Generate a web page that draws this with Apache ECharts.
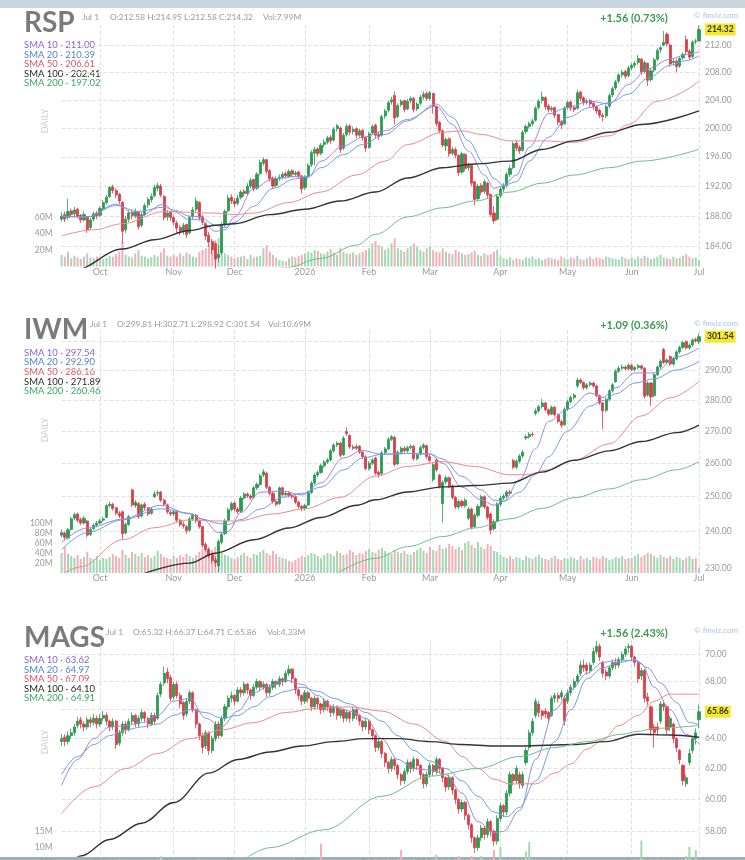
<!DOCTYPE html>
<html>
<head>
<meta charset="utf-8">
<script src="https://cdn.jsdelivr.net/npm/echarts@6/dist/echarts.min.js"></script>
<style>
  html, body { margin: 0; padding: 0; background: #fff; overflow: hidden; }
  /* taller than the window on purpose: the bottom of the MAGS panel is cut off like in the screenshot */
  #chart { width: 745px; height: 900px; }
</style>
</head>
<body>
<div id="chart"></div>
<script>
// ---- data ----
// candles are [open, close, low, high]; SMA arrays are [dayIndex, value]

const rspOHLC = [
  [187.6,188.0,187.3,188.5],[188.2,187.6,187.2,188.6],[187.8,188.6,187.5,190.3],[188.7,188.2,187.9,189.0],[188.3,188.8,188.0,189.2],
  [188.9,188.0,187.7,189.1],[188.1,187.5,187.1,188.3],[187.5,188.2,187.3,188.6],[187.9,186.2,185.8,188.0],[186.5,187.5,186.2,187.8],
  [187.6,188.3,187.3,188.6],[188.4,188.0,187.6,188.7],[188.1,189.0,187.9,189.3],[189.0,189.8,188.8,190.1],[189.8,190.5,189.5,190.8],
  [190.6,191.8,190.4,192.0],[191.9,191.4,191.0,192.2],[191.4,190.8,190.4,191.7],[190.9,190.0,189.6,191.1],[189.8,186.0,184.4,190.0],
  [186.2,187.6,185.8,188.0],[187.6,188.4,187.2,188.8],[188.5,188.0,187.6,188.9],[188.0,188.6,187.7,189.0],[188.5,186.6,186.2,188.7],
  [186.8,188.2,186.5,188.5],[188.2,189.4,188.0,189.7],[189.5,190.2,189.1,190.5],[190.2,190.6,189.8,191.0],[190.7,191.8,190.5,192.2],
  [191.7,192.1,191.3,192.5],[192.0,190.8,190.5,192.3],[190.6,187.8,187.4,190.8],[187.9,188.4,187.4,188.8],[188.5,187.8,187.4,188.7],
  [187.8,187.2,186.8,188.1],[187.1,186.4,185.8,187.4],[186.5,186.0,185.5,186.8],[186.0,186.8,185.6,187.1],[186.9,185.6,185.1,187.0],
  [185.8,187.8,185.6,188.0],[187.9,188.8,187.6,189.2],[188.9,190.0,188.6,190.5],[189.8,187.8,187.4,190.0],[187.9,187.2,186.8,188.2],
  [187.0,185.4,184.9,187.2],[185.5,184.6,184.0,185.9],[184.7,183.6,183.0,185.0],[184.4,182.4,181.2,184.6],[182.6,183.0,182.0,184.2],
  [183.2,186.8,183.0,187.2],[186.9,188.6,186.6,188.9],[188.7,190.4,188.5,190.8],[190.5,190.0,189.6,190.9],[190.0,189.6,189.2,190.4],
  [189.7,190.4,189.4,190.8],[190.5,191.2,190.2,191.5],[191.3,191.0,190.6,191.6],[191.0,192.0,190.8,192.4],[192.0,192.8,191.7,193.1],
  [192.9,191.6,191.3,193.0],[191.7,193.6,191.5,193.9],[193.7,195.2,193.5,195.6],[195.1,195.6,194.8,195.9],[195.6,194.0,193.6,195.7],
  [194.1,193.0,192.6,194.3],[193.1,192.0,191.6,193.3],[192.1,193.0,191.8,193.3],[193.0,193.2,192.7,193.6],[193.2,193.6,192.9,193.9],
  [193.7,193.4,193.0,194.0],[193.3,194.0,193.1,194.3],[194.1,193.6,193.2,194.3],[193.6,193.8,193.3,194.1],[193.9,193.4,193.0,194.1],
  [193.4,191.6,191.0,193.5],[191.8,193.2,191.5,193.5],[193.3,194.8,193.0,195.1],[194.9,196.6,194.6,196.9],[196.5,197.0,194.8,197.4],
  [197.1,196.4,196.0,197.3],[196.5,197.6,196.2,197.9],[197.7,198.0,197.3,198.4],[198.0,198.6,197.7,198.9],[198.7,198.2,197.8,199.0],
  [198.3,199.8,198.1,200.1],[199.9,200.3,199.5,200.6],[200.0,197.0,196.5,200.2],[197.2,199.0,196.9,199.3],[199.1,200.2,198.8,200.6],
  [200.3,199.4,199.0,200.5],[199.5,199.8,199.1,200.2],[199.9,199.0,198.6,200.1],[199.0,199.6,198.7,199.9],[199.7,198.6,198.2,199.8],
  [198.7,197.2,196.7,198.8],[197.3,199.2,197.1,199.5],[199.3,200.2,199.0,200.5],[200.4,199.0,198.6,200.6],[199.1,198.8,198.3,199.5],
  [199.0,201.6,198.8,201.9],[201.7,202.4,201.3,202.7],[202.5,203.6,202.2,203.9],[203.7,204.0,203.3,204.4],[204.6,201.4,200.5,205.2],
  [201.6,203.2,201.4,203.5],[203.3,203.8,203.0,204.1],[203.9,202.6,202.2,204.0],[202.7,203.8,202.5,204.1],[203.9,204.2,203.5,204.5],
  [204.2,202.6,202.2,204.4],[202.7,203.4,202.4,203.7],[203.5,204.4,203.2,204.7],[204.4,204.8,204.0,205.2],[204.9,204.2,203.8,205.2],
  [204.2,205.0,203.9,205.3],[204.9,203.0,202.0,205.0],[203.0,200.6,200.2,203.2],[200.8,199.6,199.2,201.0],[199.6,197.6,197.3,199.8],
  [197.5,198.4,196.8,198.7],[198.5,196.4,196.0,198.7],[196.5,197.0,196.2,197.4],[197.0,196.2,195.8,197.3],[196.2,193.8,193.4,196.3],
  [193.9,196.4,193.6,196.7],[196.3,194.4,194.0,196.5],[194.5,194.8,194.1,195.2],[194.8,192.4,192.0,194.9],[192.6,190.2,189.4,192.7],
  [190.3,192.0,190.0,192.3],[192.1,191.2,190.8,192.4],[191.3,192.6,191.0,192.9],[192.4,190.8,190.4,192.6],[190.9,188.2,187.9,191.0],
  [188.4,187.4,187.0,189.3],[187.6,190.6,187.4,190.9],[190.7,191.6,190.4,191.9],[191.6,192.0,191.2,192.4],[192.1,193.6,191.8,193.9],
  [193.6,194.4,193.2,194.8],[194.5,197.8,194.3,198.1],[197.9,197.2,196.8,198.2],[197.3,196.8,196.4,197.6],[196.9,199.4,196.7,199.7],
  [199.5,200.2,199.2,200.5],[200.2,200.6,199.9,200.9],[200.6,201.0,200.3,201.3],[201.1,202.8,200.9,203.1],[202.9,203.8,202.6,204.1],
  [203.9,204.4,203.5,205.2],[204.3,203.0,202.6,204.5],[203.1,202.6,202.2,203.4],[202.6,202.8,202.3,203.1],[202.9,201.8,201.4,203.0],
  [201.9,200.8,200.4,202.0],[200.9,200.4,199.9,201.1],[200.6,202.8,200.4,203.1],[202.9,203.6,202.6,203.9],[203.7,202.8,202.4,203.9],
  [202.9,202.6,202.2,203.2],[202.8,205.0,202.6,205.4],[205.1,204.2,203.8,205.3],[204.3,203.6,203.2,204.5],[203.6,203.8,203.3,204.2],
  [203.9,203.4,203.0,204.1],[203.5,203.0,202.6,203.7],[203.0,202.4,202.0,203.2],[202.5,201.8,201.4,202.7],[201.8,201.6,200.9,202.1],
  [201.7,203.0,201.4,203.3],[203.1,204.6,202.8,204.9],[204.7,205.6,204.4,205.9],[205.7,206.6,205.4,206.9],[206.7,207.6,206.4,207.9],
  [207.6,208.0,207.2,208.3],[208.1,207.4,207.0,208.3],[207.5,208.6,207.2,208.9],[208.6,209.0,208.3,209.3],[209.0,209.3,208.6,209.6],
  [209.4,210.0,209.1,210.5],[209.9,208.0,207.6,210.1],[208.1,209.4,207.8,209.7],[209.3,206.8,206.0,209.4],[206.9,208.2,206.6,208.6],
  [208.3,209.8,208.0,210.1],[209.9,211.2,209.6,211.5],[211.3,211.6,210.8,211.9],[212.0,212.4,211.8,214.1],[213.6,212.2,211.8,213.9],
  [212.0,209.2,208.8,212.2],[209.4,209.6,209.0,210.0],[209.6,208.8,208.0,209.9],[208.9,210.0,208.6,210.3],[210.1,210.6,209.8,210.9],
  [212.8,211.0,210.6,213.4],[211.1,210.2,209.8,211.4],[210.3,212.4,210.0,212.7],[212.5,212.6,212.1,212.9],[212.58,214.32,212.58,214.95]
];
const rspVol = [
  14,12,18,10,13,11,9,12,16,11,10,12,
  10,9,11,13,12,15,18,30,14,12,11,16,20,13,12,10,11,14,12,17,22,13,12,
  14,12,16,13,17,15,12,11,18,20,22,26,28,32,34,24,16,14,12,
  10,11,12,13,9,14,11,12,13,22,26,18,14,11,8,7,6,10,12,11,13,14,
  16,18,17,20,19,16,15,18,21,17,14,22,18,16,15,17,14,16,18,20,
  22,28,31,26,24,20,22,28,34,22,20,18,22,25,28,24,20,18,22,
  24,20,18,17,22,18,16,15,20,18,16,14,15,17,19,14,13,16,14,15,18,20,
  12,10,9,11,8,10,9,8,11,10,12,9,10,8,9,11,10,9,8,12,10,
  9,11,10,13,9,8,10,12,9,11,10,9,12,11,10,9,8,12,10,9,
  11,9,12,10,13,11,9,10,12,14,11,10,9,12,10,11,13,15,12,10,11,7.99
];
const rspSma10 = [[0,187.9],[8,187.9],[17,189.6],[24,187.9],[32,189.6],[35,188.6],[40,187.5],[43,187.6],[48,186.0],[51,186.2],[54,187.9],[60,191.7],[66,193.0],[73,193.3],[77,193.2],[81,195.4],[88,197.5],[94,198.7],[101,199.6],[108,201.2],[117,203.1],[122,200.5],[127,196.8],[132,193.5],[135,191.7],[138,192.1],[142,193.5],[146,197.3],[152,202.0],[158,202.9],[165,203.8],[171,203.4],[177,206.2],[183,208.5],[190,209.9],[195,210.6],[199,211.0]];
const rspSma20 = [[0,188.0],[8,187.9],[17,189.4],[24,188.6],[32,189.2],[35,188.8],[40,188.0],[43,187.9],[48,186.8],[51,186.5],[54,187.2],[60,189.3],[66,191.7],[73,193.0],[77,193.3],[81,194.5],[88,196.3],[94,197.7],[101,199.1],[108,201.0],[117,203.4],[122,201.5],[127,198.2],[132,195.0],[135,193.0],[138,192.1],[142,192.6],[146,195.4],[152,198.7],[158,201.5],[165,202.9],[171,203.6],[177,204.8],[183,207.1],[190,209.0],[195,209.7],[199,210.39]];
const rspSma50 = [[0,185.4],[10,186.2],[19,187.0],[32,188.6],[48,188.4],[54,188.2],[60,188.4],[71,189.8],[81,191.2],[92,193.5],[101,195.4],[108,197.7],[119,199.4],[125,199.6],[131,199.1],[140,198.2],[150,198.2],[160,198.0],[171,198.9],[177,200.5],[186,203.8],[199,206.61]];
const rspSma100 = [[0,180.3],[4,181.0],[19,183.7],[29,184.9],[40,186.1],[48,186.8],[54,187.0],[65,188.2],[76,188.9],[87,190.0],[98,191.2],[108,193.1],[119,194.5],[129,195.0],[140,195.4],[150,197.0],[160,198.2],[171,199.4],[181,200.5],[199,202.41]];
const rspSma200 = [[58,180.4],[70,181.3],[81,182.5],[92,184.2],[98,185.6],[108,187.9],[119,189.1],[129,190.0],[140,191.2],[150,192.4],[160,193.5],[171,194.5],[181,195.4],[199,197.02]];

const iwmOHLC = [
  [239.0,239.7,238.4,240.6],[239.6,238.4,237.6,240.0],[238.2,240.5,237.8,241.0],[240.6,243.6,240.3,244.2],[243.8,244.8,243.2,245.4],
  [245.0,243.2,242.6,245.4],[243.4,242.4,241.8,244.0],[242.4,243.8,242.0,244.4],[243.0,239.0,238.4,243.2],[239.2,240.6,238.8,241.0],
  [240.8,241.8,240.4,242.2],[241.8,242.4,241.2,243.0],[242.4,243.0,242.0,243.6],[243.2,243.6,242.8,244.2],[244.0,247.4,243.8,248.0],
  [247.4,247.8,246.8,248.6],[247.8,246.6,246.0,248.2],[246.8,245.2,244.6,247.0],[245.2,244.4,243.8,245.8],[245.6,239.4,237.8,246.0],
  [239.6,242.0,239.2,242.6],[242.0,244.2,241.6,244.8],[252.0,247.6,247.0,252.4],[247.4,248.4,246.8,249.0],[248.0,244.2,243.6,248.4],
  [244.4,247.6,244.0,248.0],[247.8,246.8,246.2,248.4],[246.8,245.0,244.4,247.0],[245.2,246.4,244.8,247.0],[250.0,250.8,249.6,251.6],
  [251.0,251.2,250.2,252.0],[251.4,249.0,248.4,251.6],[249.0,247.8,247.2,249.4],[247.6,245.6,245.0,248.0],[245.4,245.0,244.4,246.0],
  [245.0,245.6,244.4,246.2],[245.8,243.2,242.6,246.0],[243.2,242.0,241.4,243.6],[242.0,241.6,240.8,242.8],[241.4,240.2,239.4,241.8],
  [240.4,243.6,240.0,244.2],[243.6,244.6,243.0,245.2],[244.6,243.0,242.4,245.0],[243.0,241.4,240.8,243.4],[241.4,236.2,235.6,241.6],
  [236.4,235.0,234.4,237.0],[235.0,233.4,232.6,235.6],[233.6,232.0,231.2,234.0],[232.2,231.4,230.2,233.0],[230.6,237.2,228.9,237.8],
  [237.0,239.2,236.4,239.8],[239.4,243.0,239.0,243.6],[243.2,246.2,242.8,246.8],[246.2,248.0,245.8,248.6],[248.2,246.4,245.8,248.6],
  [246.4,245.6,245.0,247.0],[245.8,249.6,245.4,250.2],[249.6,250.8,249.2,251.4],[250.8,250.2,249.6,251.2],[250.2,249.6,249.0,250.8],
  [249.8,252.6,249.4,253.2],[252.6,253.6,252.0,254.2],[253.6,256.2,253.2,256.8],[256.4,257.4,255.8,258.2],[257.0,252.8,252.2,257.4],
  [252.8,251.0,250.4,253.2],[251.0,248.6,248.0,251.4],[248.6,247.8,247.2,249.2],[248.0,252.6,247.6,253.0],[252.6,250.6,250.0,253.0],
  [250.6,251.0,250.0,251.6],[251.0,250.4,249.8,251.6],[250.4,250.0,249.4,250.8],[250.0,248.4,247.8,250.4],[248.4,247.2,246.6,248.8],
  [247.2,246.6,245.8,247.6],[246.6,247.4,246.0,248.0],[247.6,251.2,247.2,251.8],[251.2,254.0,250.8,254.6],[254.0,256.4,253.6,257.0],
  [256.4,257.2,255.8,257.8],[257.2,259.2,256.8,259.8],[259.2,260.4,258.6,261.0],[260.4,261.0,259.8,261.6],[261.0,263.8,260.6,264.4],
  [263.8,265.6,263.2,266.2],[265.6,266.2,265.0,266.8],[266.2,262.4,261.8,266.6],[262.6,267.8,262.2,268.4],[269.8,269.2,268.4,271.2],
  [268.6,265.0,264.4,269.0],[265.0,264.6,264.0,265.6],[264.6,265.2,264.0,265.8],[265.2,263.4,262.8,265.6],[263.4,262.0,261.4,263.8],
  [262.0,258.4,257.8,262.4],[258.4,260.0,257.8,260.6],[260.0,261.0,259.4,261.6],[261.6,257.0,256.4,262.0],[257.2,256.6,255.6,257.8],
  [256.8,263.2,256.4,263.8],[263.2,264.4,262.6,265.0],[264.4,267.4,264.0,268.0],[267.4,268.2,266.8,268.8],[268.0,259.6,259.0,268.4],
  [259.8,263.4,259.4,264.0],[263.4,264.6,262.8,265.2],[264.6,263.8,263.2,265.2],[263.8,264.8,263.2,265.4],[264.8,265.2,264.2,265.8],
  [265.2,261.4,260.8,265.6],[261.4,262.6,260.8,263.2],[262.8,264.8,262.4,265.4],[264.8,265.6,264.2,266.2],[265.4,262.0,261.4,265.8],
  [262.0,260.8,260.2,262.6],[255.0,259.6,254.4,260.2],[261.0,258.0,257.4,261.6],[256.4,253.0,252.4,256.8],[248.0,254.2,242.6,254.8],
  [254.4,255.6,253.6,256.2],[255.6,253.2,252.6,256.0],[253.2,249.8,249.2,253.6],[249.8,247.0,246.4,250.2],[247.0,248.6,246.4,249.2],
  [248.6,247.4,246.8,249.2],[247.4,249.0,246.8,249.6],[243.8,246.4,243.2,247.0],[246.4,241.2,240.6,246.8],[241.4,244.6,241.0,245.2],
  [244.6,247.2,244.0,247.8],[247.2,250.0,246.8,250.6],[250.0,247.0,246.4,250.4],[247.0,244.0,243.4,247.4],[245.0,240.4,239.2,245.4],
  [240.8,242.8,240.2,243.4],[243.0,247.8,242.6,248.4],[247.8,249.6,247.2,250.2],[249.6,250.2,249.0,250.8],[250.2,251.4,249.6,252.0],
  [251.4,251.0,250.4,252.0],[260.8,258.8,258.2,261.4],[258.8,260.6,258.2,261.2],[260.6,262.2,260.0,262.8],[262.2,263.4,261.6,264.0],
  [267.8,268.2,267.2,268.8],[268.2,269.0,267.6,269.6],[269.0,268.8,268.2,269.6],[275.6,276.4,275.0,277.2],[276.4,277.8,275.8,278.4],
  [277.8,279.0,277.2,280.4],[279.0,276.8,276.2,279.4],[276.8,275.4,274.8,277.2],[275.4,277.6,275.0,278.2],[277.6,275.2,274.6,278.0],
  [275.2,273.0,272.4,275.6],[273.0,271.8,271.0,273.6],[272.0,277.0,271.6,277.6],[277.0,279.4,276.4,280.0],[279.4,280.8,278.8,281.4],
  [280.8,281.6,280.2,282.2],[284.6,286.6,284.0,287.4],[286.6,285.8,285.2,287.2],[285.8,284.0,283.4,286.2],[284.0,285.0,283.4,285.6],
  [285.0,285.6,284.4,286.2],[285.6,284.6,284.0,286.0],[284.6,281.4,280.8,285.0],[281.4,279.0,278.4,281.8],[279.0,276.4,270.6,279.4],
  [276.6,280.2,276.0,280.8],[280.2,283.0,279.6,283.6],[283.0,285.0,282.4,285.6],[286.0,289.6,285.6,290.2],[289.6,290.6,289.0,291.4],
  [290.6,291.0,290.0,291.8],[291.0,290.4,289.8,291.6],[290.4,291.6,289.8,292.2],[291.6,290.2,289.6,292.0],[290.2,290.8,289.6,291.4],
  [290.8,291.4,290.2,292.0],[291.4,290.6,290.0,291.8],[290.6,281.2,280.4,291.0],[281.6,285.6,281.0,286.2],[285.6,281.0,278.0,286.0],
  [281.4,288.4,281.0,289.0],[288.4,291.0,287.8,291.6],[291.0,293.0,290.4,293.6],[297.0,292.6,292.0,297.6],[292.6,293.4,292.0,294.0],
  [294.6,292.0,291.4,295.0],[292.0,293.8,291.4,294.4],[293.8,296.2,293.2,296.8],[296.2,297.8,295.6,298.4],[297.8,299.4,297.2,300.0],
  [299.8,297.6,297.0,300.2],[297.6,298.6,297.0,299.2],[298.6,300.4,298.0,301.0],[300.6,300.0,299.4,301.2],[299.81,301.54,298.92,302.71]
];
const iwmVol = [
  40,52,38,34,30,36,28,32,42,30,28,34,
  26,30,28,32,38,34,30,46,36,30,42,38,34,40,32,36,30,34,44,38,32,30,28,
  34,30,36,32,38,34,30,36,42,48,44,50,46,52,48,40,36,34,30,
  28,32,36,40,34,30,38,36,42,46,40,36,44,38,32,30,28,24,22,26,30,34,
  32,36,40,38,34,30,36,40,38,34,44,40,36,38,46,42,36,40,38,44,
  48,42,40,46,50,44,40,38,46,42,40,44,38,36,42,46,50,44,40,
  52,46,44,56,48,50,58,54,48,52,46,60,64,56,50,62,52,48,58,54,44,42,
  36,32,30,34,28,32,30,26,34,30,28,32,36,30,28,26,30,34,28,26,30,
  28,32,30,26,34,28,30,26,32,30,28,34,30,26,28,32,30,34,28,30,
  30,34,38,32,36,40,38,34,30,36,32,30,34,28,32,30,26,30,34,28,30,10.69
];
const iwmSma10 = [[0,237.0],[8,241.0],[19,243.5],[31,247.5],[40,245.0],[44,243.5],[49,239.7],[52,240.0],[56,245.4],[62,251.3],[69,251.7],[75,250.5],[81,254.1],[88,261.6],[94,263.9],[100,262.7],[108,263.0],[115,262.8],[119,260.0],[125,252.8],[131,249.1],[135,247.5],[138,248.7],[143,255.0],[148,264.5],[152,273.0],[158,277.0],[165,282.3],[169,280.8],[173,284.0],[179,289.0],[185,289.0],[192,294.5],[199,297.54]];
const iwmSma20 = [[0,235.0],[8,239.7],[19,243.3],[31,246.5],[40,245.2],[44,243.5],[49,242.3],[52,242.0],[56,243.4],[62,246.4],[69,249.8],[75,251.0],[81,252.8],[88,258.0],[94,261.6],[100,262.7],[108,263.0],[115,262.8],[119,261.3],[125,256.0],[131,252.0],[135,249.0],[138,248.7],[143,251.3],[148,256.6],[152,262.0],[158,270.0],[165,278.0],[169,279.8],[173,282.0],[179,285.6],[185,287.0],[192,290.0],[199,292.9]];
const iwmSma50 = [[0,228.2],[6,230.3],[19,237.7],[29,241.1],[40,243.3],[48,243.0],[55,243.0],[66,245.0],[76,246.5],[87,249.8],[98,256.1],[108,259.0],[119,260.5],[129,259.0],[140,256.5],[145,256.5],[152,258.0],[160,260.9],[171,266.0],[181,274.8],[190,280.7],[199,286.16]];
const iwmSma100 = [[26,228.6],[40,231.3],[48,234.0],[60,237.7],[71,241.0],[81,244.0],[92,247.5],[98,249.1],[108,251.4],[119,252.9],[129,253.3],[140,254.0],[150,257.3],[160,260.9],[171,263.8],[181,266.7],[192,269.5],[199,271.89]];
const iwmSma200 = [[86,228.6],[98,232.6],[108,235.8],[119,238.6],[129,241.0],[140,243.6],[150,246.6],[160,249.7],[171,252.3],[181,255.0],[192,258.0],[199,260.46]];

const magsOHLC = [
  [63.8,64.0,63.5,64.3],[64.1,63.8,63.5,64.3],[63.8,64.2,63.6,64.5],[64.2,64.4,64.0,64.7],[64.4,64.8,64.2,65.0],
  [64.9,65.2,64.7,65.5],[65.3,65.0,64.7,65.5],[65.0,64.8,64.5,65.2],[64.8,65.3,64.6,65.5],[65.3,65.1,64.8,65.5],
  [65.1,65.4,64.9,65.7],[65.4,65.0,64.7,65.6],[65.0,65.4,64.8,65.7],[65.4,65.6,65.2,65.9],[65.6,65.2,64.9,65.8],
  [65.2,64.8,64.5,65.3],[64.8,65.2,64.6,65.4],[65.2,63.6,63.3,65.3],[63.7,64.4,63.5,64.6],[64.4,65.0,64.2,65.2],
  [65.0,64.6,64.3,65.2],[64.6,65.2,64.5,65.4],[65.2,65.6,65.0,65.8],[65.6,65.0,64.8,65.7],[65.0,65.4,64.8,65.6],
  [65.4,65.8,65.2,66.0],[65.8,65.4,65.1,65.9],[65.4,65.0,64.7,65.5],[65.0,65.6,64.9,65.8],[65.6,65.2,65.0,65.8],
  [65.4,67.0,65.3,67.2],[67.1,67.8,66.9,68.0],[67.9,68.6,67.7,69.1],[68.7,68.2,67.9,69.0],[68.3,66.8,66.6,68.5],
  [66.9,67.8,66.7,68.0],[67.8,67.0,66.8,68.0],[67.0,66.4,66.1,67.2],[66.5,65.6,65.3,66.6],[65.7,66.6,65.5,66.8],
  [66.6,67.2,66.4,67.4],[67.2,66.0,65.8,67.3],[66.0,65.0,64.7,66.1],[65.0,64.2,63.9,65.1],[64.2,63.4,63.0,64.4],
  [63.5,64.4,63.3,64.6],[64.4,63.2,62.9,64.5],[63.2,64.0,63.0,64.2],[64.0,65.0,63.8,65.2],[65.0,64.2,64.0,65.2],
  [64.2,65.4,64.1,65.6],[65.4,66.2,65.2,66.4],[66.2,66.8,66.0,67.0],[66.8,67.0,66.5,67.3],[67.0,66.6,66.3,67.1],
  [66.6,67.4,66.5,67.6],[67.4,67.2,66.9,67.6],[67.2,67.8,67.0,68.0],[67.8,67.4,67.1,67.9],[67.4,67.0,66.7,67.5],
  [67.0,67.6,66.9,67.8],[67.6,68.0,67.4,68.2],[68.0,67.6,67.3,68.1],[67.6,67.8,67.4,68.0],[67.8,67.2,66.9,67.9],
  [67.2,67.6,67.0,67.8],[67.6,68.0,67.4,68.2],[68.0,67.8,67.5,68.1],[67.8,68.2,67.6,68.4],[68.2,68.0,67.7,68.3],
  [68.0,68.6,67.9,68.8],[68.6,68.9,68.4,69.2],[68.9,68.2,67.9,69.0],[68.2,67.4,67.1,68.3],[67.4,67.0,66.7,67.5],
  [67.0,66.6,66.3,67.1],[66.6,67.2,66.4,67.4],[67.2,66.8,66.5,67.3],[66.8,66.2,65.9,66.9],[66.2,66.8,66.0,67.0],
  [66.8,66.4,66.1,66.9],[66.4,66.0,65.7,66.5],[66.0,66.6,65.8,66.8],[66.6,66.2,65.9,66.7],[66.2,65.8,65.5,66.3],
  [65.8,66.2,65.6,66.4],[66.2,65.6,65.3,66.3],[65.6,66.0,65.4,66.2],[66.0,65.4,65.1,66.1],[65.4,65.8,65.2,66.0],
  [65.8,65.4,65.1,65.9],[65.4,66.0,65.2,66.2],[66.0,65.6,65.3,66.1],[65.6,65.2,64.9,65.7],[65.2,64.8,64.5,65.3],
  [64.8,65.2,64.6,65.4],[65.2,64.6,64.3,65.3],[64.6,64.2,63.9,64.7],[64.2,63.4,63.1,64.3],[63.4,63.8,63.2,64.0],
  [63.8,63.0,62.7,63.9],[63.0,62.4,62.1,63.1],[62.4,62.0,61.7,62.5],[62.0,62.6,61.8,62.8],[62.6,62.2,61.9,62.7],
  [62.2,61.6,61.3,62.3],[61.6,61.2,60.9,61.7],[61.2,61.8,61.0,62.0],[61.8,62.4,61.6,62.6],[62.4,62.0,61.7,62.5],
  [62.0,62.6,61.8,62.8],[62.6,62.2,61.9,62.7],[62.2,61.6,61.3,62.3],[61.6,61.0,60.7,61.7],[61.0,61.6,60.8,61.8],
  [61.6,62.2,61.4,62.4],[62.2,61.8,61.5,62.3],[61.8,62.6,61.6,62.8],[62.6,62.0,61.7,62.7],[62.0,61.4,61.1,62.1],
  [61.4,60.8,60.5,61.5],[60.8,61.4,60.6,61.6],[61.4,60.6,60.3,61.5],[60.6,60.0,59.7,60.7],[60.0,59.4,59.1,60.1],
  [59.4,59.8,59.2,60.0],[59.8,59.0,58.7,59.9],[59.0,58.4,58.1,59.1],[58.4,57.6,57.3,58.5],[57.6,57.0,56.7,57.7],
  [57.0,57.6,56.8,57.8],[57.6,58.2,57.4,58.4],[58.2,57.8,57.5,58.3],[57.8,58.6,57.6,58.8],[58.6,58.0,57.7,58.7],
  [58.0,57.4,57.1,58.1],[57.4,58.8,57.2,59.0],[58.8,59.6,58.6,59.8],[59.6,59.2,58.9,59.7],[59.2,60.4,59.0,60.6],
  [60.4,61.6,60.2,61.8],[61.6,61.2,60.9,61.7],[61.2,62.0,61.0,62.2],[61.6,61.0,60.7,61.8],[60.9,61.6,60.7,61.8],
  [62.4,63.2,62.2,63.4],[63.4,64.4,63.2,64.6],[64.4,65.2,64.2,65.4],[65.6,66.6,65.4,66.8],[66.4,65.8,65.5,66.6],
  [65.9,65.6,65.3,66.0],[65.9,65.7,65.4,66.1],[65.8,65.4,65.1,65.9],[65.6,66.8,65.5,67.0],[66.8,67.0,66.5,67.2],
  [67.0,66.8,66.5,67.2],[66.9,67.2,66.7,67.4],[66.8,65.2,64.9,67.0],[66.6,67.2,66.4,67.4],[67.2,67.6,67.0,67.8],
  [67.6,68.0,67.4,68.2],[68.0,68.4,67.8,68.6],[68.6,69.2,68.4,69.5],[69.2,69.0,68.7,69.6],[69.2,68.8,68.5,69.4],
  [68.8,69.2,68.6,69.4],[69.4,70.2,69.2,70.5],[70.2,70.6,70.0,71.0],[70.6,69.8,69.5,70.8],[69.4,68.6,68.3,69.5],
  [68.7,68.4,68.1,68.9],[68.4,69.0,68.2,69.2],[69.0,69.4,68.8,69.6],[69.4,69.2,68.9,69.7],[69.2,69.6,69.0,69.8],
  [69.6,70.0,69.4,70.2],[70.0,70.4,69.8,70.6],[70.5,70.6,70.1,70.8],[70.6,69.8,69.5,70.7],[69.8,69.4,69.1,69.9],
  [69.4,68.2,67.9,69.5],[68.4,68.8,68.1,69.0],[68.8,66.8,66.5,68.9],[66.9,66.6,66.3,67.2],[66.2,64.6,64.2,66.3],
  [64.8,64.4,63.4,65.0],[64.8,64.6,64.2,65.1],[65.2,66.4,65.0,66.6],[66.4,66.2,65.9,66.6],[66.2,64.6,64.3,66.3],
  [64.8,65.4,64.5,65.6],[65.0,64.0,63.7,65.1],[64.0,63.4,63.1,64.1],[63.2,62.6,62.3,63.3],[62.2,61.2,60.9,62.3],
  [61.0,61.4,60.8,61.6],[62.4,63.0,62.2,63.3],[63.2,64.0,63.0,64.2],[64.0,64.4,63.6,64.7],[65.32,65.86,64.71,66.37]
];
const magsVol = [
  4,3,5,3,4,3,3,4,5,3,3,4,
  3,4,3,3,5,4,6,3,4,3,3,4,5,3,3,4,3,5,6,7,4,5,4,
  4,3,5,4,3,4,5,4,6,5,4,5,4,3,4,3,4,5,3,
  3,4,3,3,4,3,4,3,3,4,3,4,3,3,2,2,3,4,3,4,3,4,
  4,3,4,3,4,11,4,3,5,4,3,4,5,4,3,4,5,4,3,4,
  4,5,6,5,4,5,6,5,4,6,9,5,4,5,6,5,4,5,6,
  5,6,7.5,5,6,5,6,5,6,7,6,5,6,7,6,5,7,6,5,6,9,6,
  10,6,5,6,5,6,5,6,8.5,11.5,6,5,4,5,4,5,4,5,4,5,6,
  5,4,5,4,5,4,5,4,5,4,5,4,5,4,5,4,3,4,5,4,
  5,6,5,12,6,5,6,5,6,5,6,5,5,4,5,6,6,7,10,6,9,4.33
];
const magsSma10 = [[0,60.9],[5,62.6],[10,64.0],[15,64.8],[20,64.9],[25,65.1],[30,65.6],[35,66.6],[40,66.8],[45,65.4],[50,64.8],[55,65.9],[60,67.2],[65,67.7],[70,68.1],[75,67.8],[80,67.0],[85,66.2],[90,65.9],[95,65.4],[100,64.0],[105,62.6],[110,62.0],[115,61.9],[120,61.6],[125,60.4],[130,58.6],[135,57.9],[138,58.0],[143,59.3],[148,62.6],[154,66.0],[159,67.4],[164,68.6],[169,69.4],[174,69.6],[179,69.5],[181,69.3],[185,67.6],[190,66.0],[195,64.3],[199,63.62]];
const magsSma20 = [[0,61.6],[5,62.8],[10,63.6],[15,64.2],[20,64.6],[25,64.8],[30,65.0],[35,65.6],[40,66.0],[45,65.8],[50,65.4],[55,65.6],[60,66.2],[65,66.9],[70,67.3],[75,67.6],[80,67.3],[85,66.8],[90,66.4],[95,65.8],[100,65.2],[105,64.2],[110,63.2],[115,62.5],[120,62.0],[125,61.2],[130,60.2],[135,59.2],[139,58.9],[143,59.5],[148,61.2],[154,63.8],[159,66.0],[164,68.2],[169,69.0],[174,69.4],[179,69.6],[183,69.0],[187,67.9],[192,66.5],[196,65.1],[199,64.97]];
const magsSma50 = [[0,59.1],[10,60.8],[20,62.0],[30,63.0],[40,64.0],[50,64.6],[60,65.1],[70,65.8],[80,66.1],[90,66.2],[100,65.9],[110,65.0],[120,63.8],[125,62.8],[130,62.0],[135,61.3],[140,61.0],[148,61.0],[154,61.7],[159,62.3],[164,63.3],[169,63.9],[174,64.9],[180,65.6],[185,66.6],[190,67.1],[195,67.1],[199,67.09]];
const magsSma100 = [[3,56.1],[6,56.5],[15,57.5],[25,58.5],[35,59.8],[46,61.7],[55,62.6],[65,63.1],[75,63.5],[85,63.8],[95,64.0],[105,64.0],[115,63.8],[125,63.6],[135,63.5],[143,63.5],[160,63.6],[170,63.8],[180,64.3],[190,64.25],[199,64.1]];
const magsSma200 = [[57,56.3],[65,57.0],[82,58.1],[100,60.2],[115,61.5],[130,62.0],[143,62.8],[154,63.4],[164,63.8],[175,64.3],[180,64.5],[185,64.7],[199,64.91]];

const smaNames = ['SMA 10', 'SMA 20', 'SMA 50', 'SMA 100', 'SMA 200'];
const rspLegend = ['211.00', '210.39', '206.61', '202.41', '197.02'];
const iwmLegend = ['297.54', '292.90', '286.16', '271.89', '260.46'];
const magsLegend = ['63.62', '64.97', '67.09', '64.10', '64.91'];

const rspTicks = [184, 188, 192, 196, 200, 204, 208, 212];
const iwmTicks = [230, 240, 250, 260, 270, 280, 290, 300];
const magsTicks = [58, 60, 62, 64, 66, 68, 70];

// ---- trading calendar (Sep 15 2025 .. Jul 1 2026) ----
const holidays = ['2025-11-27','2025-12-25','2026-01-01','2026-01-19','2026-02-16','2026-04-03','2026-05-25','2026-06-19'];
const days = [];
for (let t = Date.UTC(2025, 8, 15); t <= Date.UTC(2026, 6, 1); t += 864e5) {
  const d = new Date(t);
  const wd = d.getUTCDay();
  const s = d.toISOString().slice(0, 10);
  if (wd === 0 || wd === 6 || holidays.includes(s)) continue;
  days.push(s);
}
const monthNames = ['Jan','Feb','Mar','Apr','May','Jun','Jul','Aug','Sep','Oct','Nov','Dec'];
const isMonthStart = i => i > 0 && days[i].slice(5, 7) !== days[i - 1].slice(5, 7);
const monthLabel = v => {
  const m = +v.slice(5, 7);
  return m === 1 ? v.slice(0, 4) : monthNames[m - 1];
};

// ---- look ----
const UP = '#2b9a52', DOWN = '#dc3d4a';
const VOL_UP = '#a3d8b4', VOL_DOWN = '#f3b0ba';
const smaLine = ['#9a86e0', '#6f9fe0', '#ee8a8f', '#333333', '#6cbf8a'];
const smaText = ['#8a63d2', '#4f86d8', '#e0555f', '#2a2a2a', '#3aa868'];
const GRID = '#e0e0e0';
const FONT = 'Lato, "Open Sans", sans-serif';

const LEFT = 61.6, WIDTH = 637.4;

const panels = [
  { ticker: 'RSP', ohlc: rspOHLC, vol: rspVol, sma: [rspSma10, rspSma20, rspSma50, rspSma100, rspSma200],
    legend: rspLegend, ticks: rspTicks, hideTick: null, last: 214.32,
    info: 'O:212.58 H:214.95 L:212.58 C:214.32', volText: 'Vol:7.99M', change: '+1.56 (0.73%)',
    top: 25, height: 242, min: 181.4, max: 215.0, volTop: 216.5, volHeight: 50, volMax: 60.6, volStep: 20,
    tickerY: 23, infoY: 17, dateX: 82, infoX: 110, volX: 263, legendY: 45, dailyY: 121, xLabel: 1 },
  { ticker: 'IWM', ohlc: iwmOHLC, vol: iwmVol, sma: [iwmSma10, iwmSma20, iwmSma50, iwmSma100, iwmSma200],
    legend: iwmLegend, ticks: iwmTicks, hideTick: 300, last: 301.54,
    info: 'O:299.81 H:302.71 L:298.92 C:301.54', volText: 'Vol:10.69M', change: '+1.09 (0.36%)',
    top: 330, height: 242, min: 228.9, max: 303.9, volTop: 522, volHeight: 51, volMax: 102, volStep: 20,
    tickerY: 330, infoY: 324.5, dateX: 90, infoX: 117, volX: 268, legendY: 352.7, dailyY: 430, xLabel: 2 },
  { ticker: 'MAGS', ohlc: magsOHLC, vol: magsVol, sma: [magsSma10, magsSma20, magsSma50, magsSma100, magsSma200],
    legend: magsLegend, ticks: magsTicks, hideTick: 66, last: 65.86,
    info: 'O:65.32 H:66.37 L:64.71 C:65.86', volText: 'Vol:4.33M', change: '+1.56 (2.43%)',
    top: 640, height: 216, min: 56.5, max: 71.07, volTop: 825, volHeight: 53, volMax: 17, volStep: 5,
    tickerY: 637.5, infoY: 632, dateX: 106, infoX: 133, volX: 267, legendY: 660, dailyY: 742, xLabel: 2 }
];

const grid = [], xAxis = [], yAxis = [], series = [], graphic = [];

graphic.push({ type: 'rect', shape: { x: 0, y: 0, width: 745, height: 8 }, style: { fill: '#c9d6df' } });
graphic.push({ type: 'rect', shape: { x: 0, y: 857, width: 745, height: 3 }, style: { fill: '#9db0b8' } });

panels.forEach((p, k) => {
  const gPrice = grid.length;
  grid.push({ left: LEFT, width: WIDTH, top: p.top, height: p.height });
  grid.push({ left: LEFT, width: WIDTH, top: p.volTop, height: p.volHeight });

  xAxis.push({
    type: 'category', gridIndex: gPrice, data: days, boundaryGap: false,
    axisLine: { show: false }, axisTick: { show: false },
    axisLabel: { interval: isMonthStart, formatter: monthLabel, color: '#9a9a9a', fontSize: 9, fontFamily: FONT, margin: p.xLabel },
    splitLine: { show: true, interval: isMonthStart, lineStyle: { type: 'dashed', color: GRID, width: 1 } }
  });
  xAxis.push({
    type: 'category', gridIndex: gPrice + 1, data: days, boundaryGap: false, show: false
  });

  yAxis.push({
    type: 'log', logBase: 10, gridIndex: gPrice, min: p.min, max: p.max, position: 'right',
    axisLine: { show: false }, axisTick: { show: false }, axisLabel: { show: false }, splitLine: { show: false }
  });
  yAxis.push({
    type: 'value', gridIndex: gPrice + 1, min: 0, max: p.volMax, interval: p.volStep, position: 'left',
    axisLine: { show: false }, axisTick: { show: false }, splitLine: { show: false },
    axisLabel: {
      color: '#9a9a9a', fontSize: 8.5, fontFamily: FONT, margin: 9,
      formatter: v => (v > 0 && Math.abs(v / p.volStep - Math.round(v / p.volStep)) < 1e-6) ? v + 'M' : ''
    }
  });

  // volume
  series.push({
    type: 'bar', xAxisIndex: gPrice + 1, yAxisIndex: gPrice + 1, barWidth: 2, silent: true, animation: false,
    data: p.vol.map((v, i) => ({ value: v, itemStyle: { color: p.ohlc[i][1] >= p.ohlc[i][0] ? VOL_UP : VOL_DOWN } }))
  });

  // grid lines + price labels + last price tag
  const markData = p.ticks.map(v => ({
    yAxis: v,
    label: { show: v !== p.hideTick }
  }));
  markData.push({
    yAxis: p.last, lineStyle: { color: 'rgba(0,0,0,0)', width: 0 },
    label: { show: true, backgroundColor: '#f7e92a', color: '#333', padding: [2, 2, 1, 2], fontWeight: 'bold' }
  });

  series.push({
    type: 'candlestick', xAxisIndex: gPrice, yAxisIndex: gPrice, barWidth: 2.6, animation: false, silent: true,
    data: p.ohlc,
    itemStyle: { color: UP, color0: DOWN, borderColor: UP, borderColor0: DOWN, borderWidth: 0.8 },
    markLine: {
      silent: true, symbol: ['none', 'none'], animation: false, z: 1,
      lineStyle: { type: 'dashed', color: GRID, width: 1 },
      label: { position: 'end', distance: 6, color: '#9a9a9a', fontSize: 8.5, fontFamily: FONT,
        formatter: q => q.value.toFixed(2) },
      data: markData
    }
  });

  // moving averages
  p.sma.forEach((arr, j) => {
    series.push({
      type: 'line', xAxisIndex: gPrice, yAxisIndex: gPrice, data: arr, showSymbol: false, symbol: 'none',
      smooth: 0.35, smoothMonotone: 'x', silent: true, animation: false, z: 3,
      lineStyle: { color: smaLine[j], width: j === 3 ? 1.4 : 1 }
    });
  });

  // header texts
  graphic.push({ type: 'text', x: 24, y: p.tickerY,
    style: { text: p.ticker, font: 'bold 28px ' + FONT, fill: '#7b7b7b', verticalAlign: 'middle' } });
  graphic.push({ type: 'text', x: p.dateX, y: p.infoY,
    style: { text: 'Jul 1', font: '8.4px ' + FONT, fill: '#9a9a9a', verticalAlign: 'middle' } });
  graphic.push({ type: 'text', x: p.infoX, y: p.infoY,
    style: { text: p.info, font: '8.4px ' + FONT, fill: '#9a9a9a', verticalAlign: 'middle' } });
  graphic.push({ type: 'text', x: p.volX, y: p.infoY,
    style: { text: p.volText, font: '8.4px ' + FONT, fill: '#9a9a9a', verticalAlign: 'middle' } });
  graphic.push({ type: 'text', x: 634, y: p.infoY + 1,
    style: { text: p.change, font: 'bold 11px ' + FONT, fill: '#3c9a4b', align: 'center', verticalAlign: 'middle' } });
  graphic.push({ type: 'text', x: 716, y: p.infoY - 1.5,
    style: { text: '\u00a9 finviz.com', font: '8px ' + FONT, fill: '#a9c3df', align: 'center', verticalAlign: 'middle' } });
  smaNames.forEach((n, j) => {
    graphic.push({ type: 'text', x: 24, y: p.legendY + j * 9.6,
      style: { text: n + ' \u00b7 ' + p.legend[j], font: '9.5px ' + FONT, fill: smaText[j], verticalAlign: 'middle' } });
  });
  graphic.push({ type: 'text', x: 45, y: p.dailyY, rotation: Math.PI / 2,
    style: { text: 'DAILY', font: '9px ' + FONT, fill: '#cfcfcf', align: 'center', verticalAlign: 'middle' } });
});

const chart = echarts.init(document.getElementById('chart'));
chart.setOption({
  animation: false,
  backgroundColor: '#fff',
  grid, xAxis, yAxis, series, graphic
});
</script>
</body>
</html>
